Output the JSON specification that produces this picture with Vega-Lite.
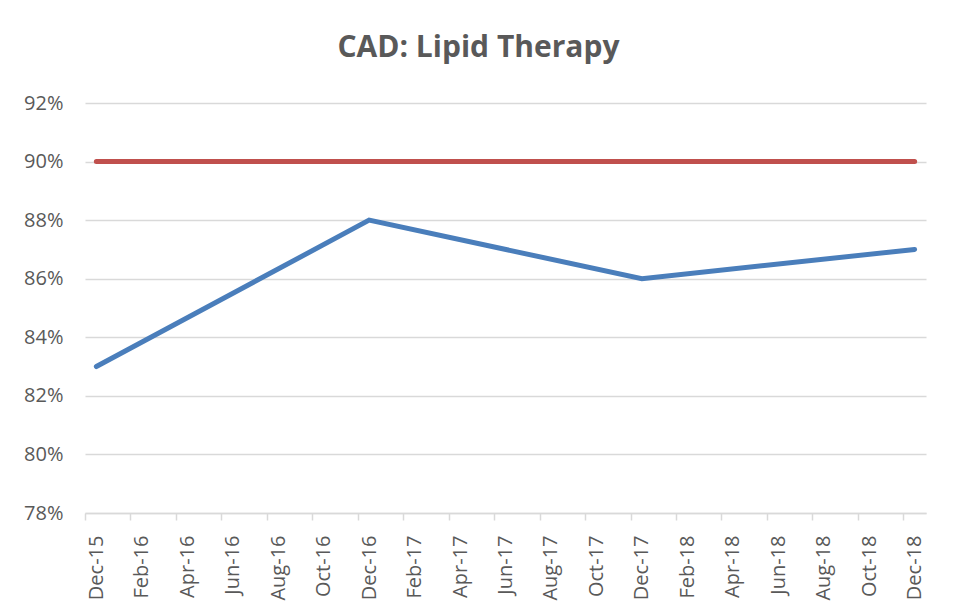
{
  "$schema": "https://vega.github.io/schema/vega-lite/v6.json",
  "autosize": "none",
  "width": 841,
  "height": 410,
  "padding": {"left": 85, "top": 103, "right": 30, "bottom": 103},
  "background": "white",
  "title": {
    "text": "CAD: Lipid Therapy",
    "font": "Open Sans",
    "fontSize": 30,
    "fontWeight": "bold",
    "color": "#595959",
    "anchor": "middle",
    "dx": -27,
    "offset": 30
  },
  "data": {
    "values": [
      {"month": "Dec-15", "idx": 0, "series": "Actual", "value": 0.83},
      {"month": "Dec-16", "idx": 12, "series": "Actual", "value": 0.88},
      {"month": "Dec-17", "idx": 24, "series": "Actual", "value": 0.86},
      {"month": "Dec-18", "idx": 36, "series": "Actual", "value": 0.87},
      {"month": "Dec-15", "idx": 0, "series": "Target", "value": 0.90},
      {"month": "Dec-16", "idx": 12, "series": "Target", "value": 0.90},
      {"month": "Dec-17", "idx": 24, "series": "Target", "value": 0.90},
      {"month": "Dec-18", "idx": 36, "series": "Target", "value": 0.90}
    ]
  },
  "mark": {"type": "line", "strokeWidth": 5, "strokeCap": "round", "strokeJoin": "miter"},
  "encoding": {
    "x": {
      "field": "idx",
      "type": "quantitative",
      "scale": {"domain": [-0.5, 36.5], "nice": false, "zero": false},
      "axis": {
        "title": null,
        "grid": false,
        "values": [-0.5, 0, 1.5, 2, 3.5, 4, 5.5, 6, 7.5, 8, 9.5, 10, 11.5, 12, 13.5, 14, 15.5, 16, 17.5, 18, 19.5, 20, 21.5, 22, 23.5, 24, 25.5, 26, 27.5, 28, 29.5, 30, 31.5, 32, 33.5, 34, 35.5, 36],
        "labelExpr": "datum.value % 2 == 0 ? ['Dec-15','Feb-16','Apr-16','Jun-16','Aug-16','Oct-16','Dec-16','Feb-17','Apr-17','Jun-17','Aug-17','Oct-17','Dec-17','Feb-18','Apr-18','Jun-18','Aug-18','Oct-18','Dec-18'][datum.value / 2] : ''",
        "labelAngle": -90,
        "labelAlign": "right",
        "labelBaseline": "middle",
        "labelFont": "Open Sans",
        "labelFontSize": 20,
        "labelColor": "#595959",
        "labelPadding": 15,
        "labelOverlap": false,
        "labelBound": false,
        "labelFlush": false,
        "domainColor": "#d9d9d9",
        "domainWidth": 1.5,
        "tickColor": "#d9d9d9",
        "tickWidth": 1.5,
        "tickSize": 7,
        "tickOpacity": {"condition": {"test": "datum.value % 2 == 0", "value": 0}, "value": 1}
      }
    },
    "y": {
      "field": "value",
      "type": "quantitative",
      "scale": {"domain": [0.78, 0.92], "nice": false, "zero": false},
      "axis": {
        "title": null,
        "values": [0.78, 0.80, 0.82, 0.84, 0.86, 0.88, 0.90, 0.92],
        "format": ".0%",
        "ticks": false,
        "domain": false,
        "gridColor": "#d9d9d9",
        "gridWidth": 1.5,
        "labelFont": "Open Sans",
        "labelFontSize": 20,
        "labelColor": "#595959",
        "labelPadding": 22
      }
    },
    "color": {
      "field": "series",
      "type": "nominal",
      "scale": {"domain": ["Actual", "Target"], "range": ["#4a7ebb", "#c0504d"]},
      "legend": null
    }
  },
  "config": {"view": {"stroke": null}}
}
